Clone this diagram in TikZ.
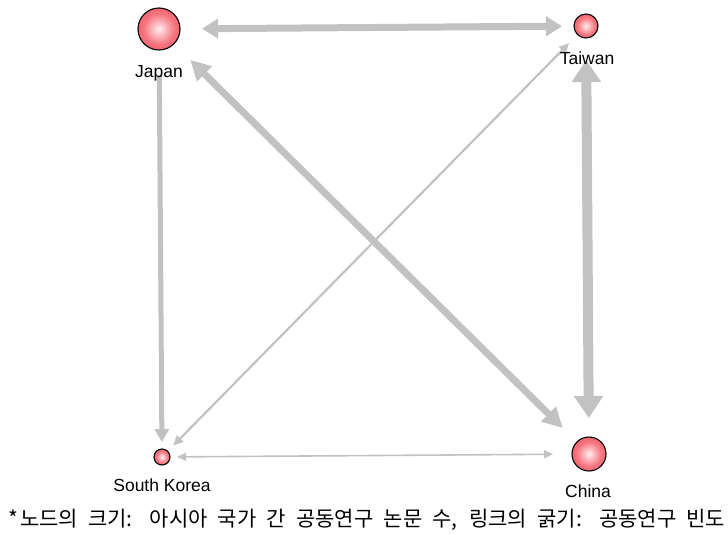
\documentclass[tikz,border=0pt]{standalone}
\usepackage{fontspec}
\setmainfont{Liberation Sans}
\newfontfamily\krfont{Noto Sans CJK KR}
\usetikzlibrary{arrows.meta}
\definecolor{edgegray}{RGB}{194,194,194}
\definecolor{ballin}{RGB}{255,238,240}
\definecolor{ballmid}{RGB}{246,118,128}
\definecolor{ballout}{RGB}{228,48,62}
\pgfdeclareradialshading{nodeball}{\pgfpoint{0bp}{0bp}}{color(0bp)=(ballin); color(18bp)=(ballmid); color(50bp)=(ballout)}
\begin{document}
\begin{tikzpicture}[x=1pt,y=-1pt,
  country/.style={circle,draw=black,line width=1.1pt,inner sep=0pt,shading=nodeball},
  lbl/.style={anchor=base,font=\fontsize{17.5}{20}\selectfont,text=black,inner sep=0pt},
  link/.style={draw=edgegray}]
\useasboundingbox (0,0) rectangle (728,533);
% nodes
\node[country,minimum size=42pt] (japan) at (159,29) {};
\node[country,minimum size=24pt] (taiwan) at (586,26) {};
\node[country,minimum size=16pt] (korea) at (162,457) {};
\node[country,minimum size=34pt] (china) at (589,454) {};
% links
\draw[link,line width=7pt,{Triangle[length=16pt,width=19pt]}-{Triangle[length=16pt,width=19pt]},shorten <=43pt,shorten >=24pt] (japan.center) -- (taiwan.center);
\draw[link,line width=10pt,{Triangle[length=22pt,width=28pt]}-{Triangle[length=22pt,width=28pt]},shorten <=34pt,shorten >=36pt] (taiwan.center) -- (china.center);
\draw[link,line width=7pt,{Triangle[length=20pt,width=20pt]}-{Triangle[length=20pt,width=20pt]},shorten <=44pt,shorten >=37pt] (japan.center) -- (china.center);
\draw[link,line width=5pt,-{Triangle[length=13pt,width=14pt]},shorten <=46pt,shorten >=15pt] (japan.center) -- (korea.center);
\draw[link,line width=2.2pt,{Triangle[length=10pt,width=9pt]}-{Triangle[length=10pt,width=9pt]},shorten <=24pt,shorten >=16pt] (taiwan.center) -- (korea.center);
\draw[link,line width=1.6pt,{Triangle[length=9pt,width=8pt]}-{Triangle[length=9pt,width=8pt]},shorten <=15pt,shorten >=36pt] (korea.center) -- (china.center);
% labels
\node[lbl] (japanlbl) at (159,77) {Japan};
\node[lbl] (taiwanlbl) at (587,64) {Taiwan};
\node[lbl] (korealbl) at (162,491.5) {South Korea};
\node[lbl] (chinalbl) at (588,497) {China};
\node[anchor=base west,inner sep=0pt,font=\krfont\fontsize{21}{24}\selectfont] (note) at (8,526) {\makebox[717pt][s]{*\kern2pt 노드의 크기: 아시아 국가 간 공동연구 논문 수, 링크의 굵기: 공동연구 빈도}};
\end{tikzpicture}
\end{document}
